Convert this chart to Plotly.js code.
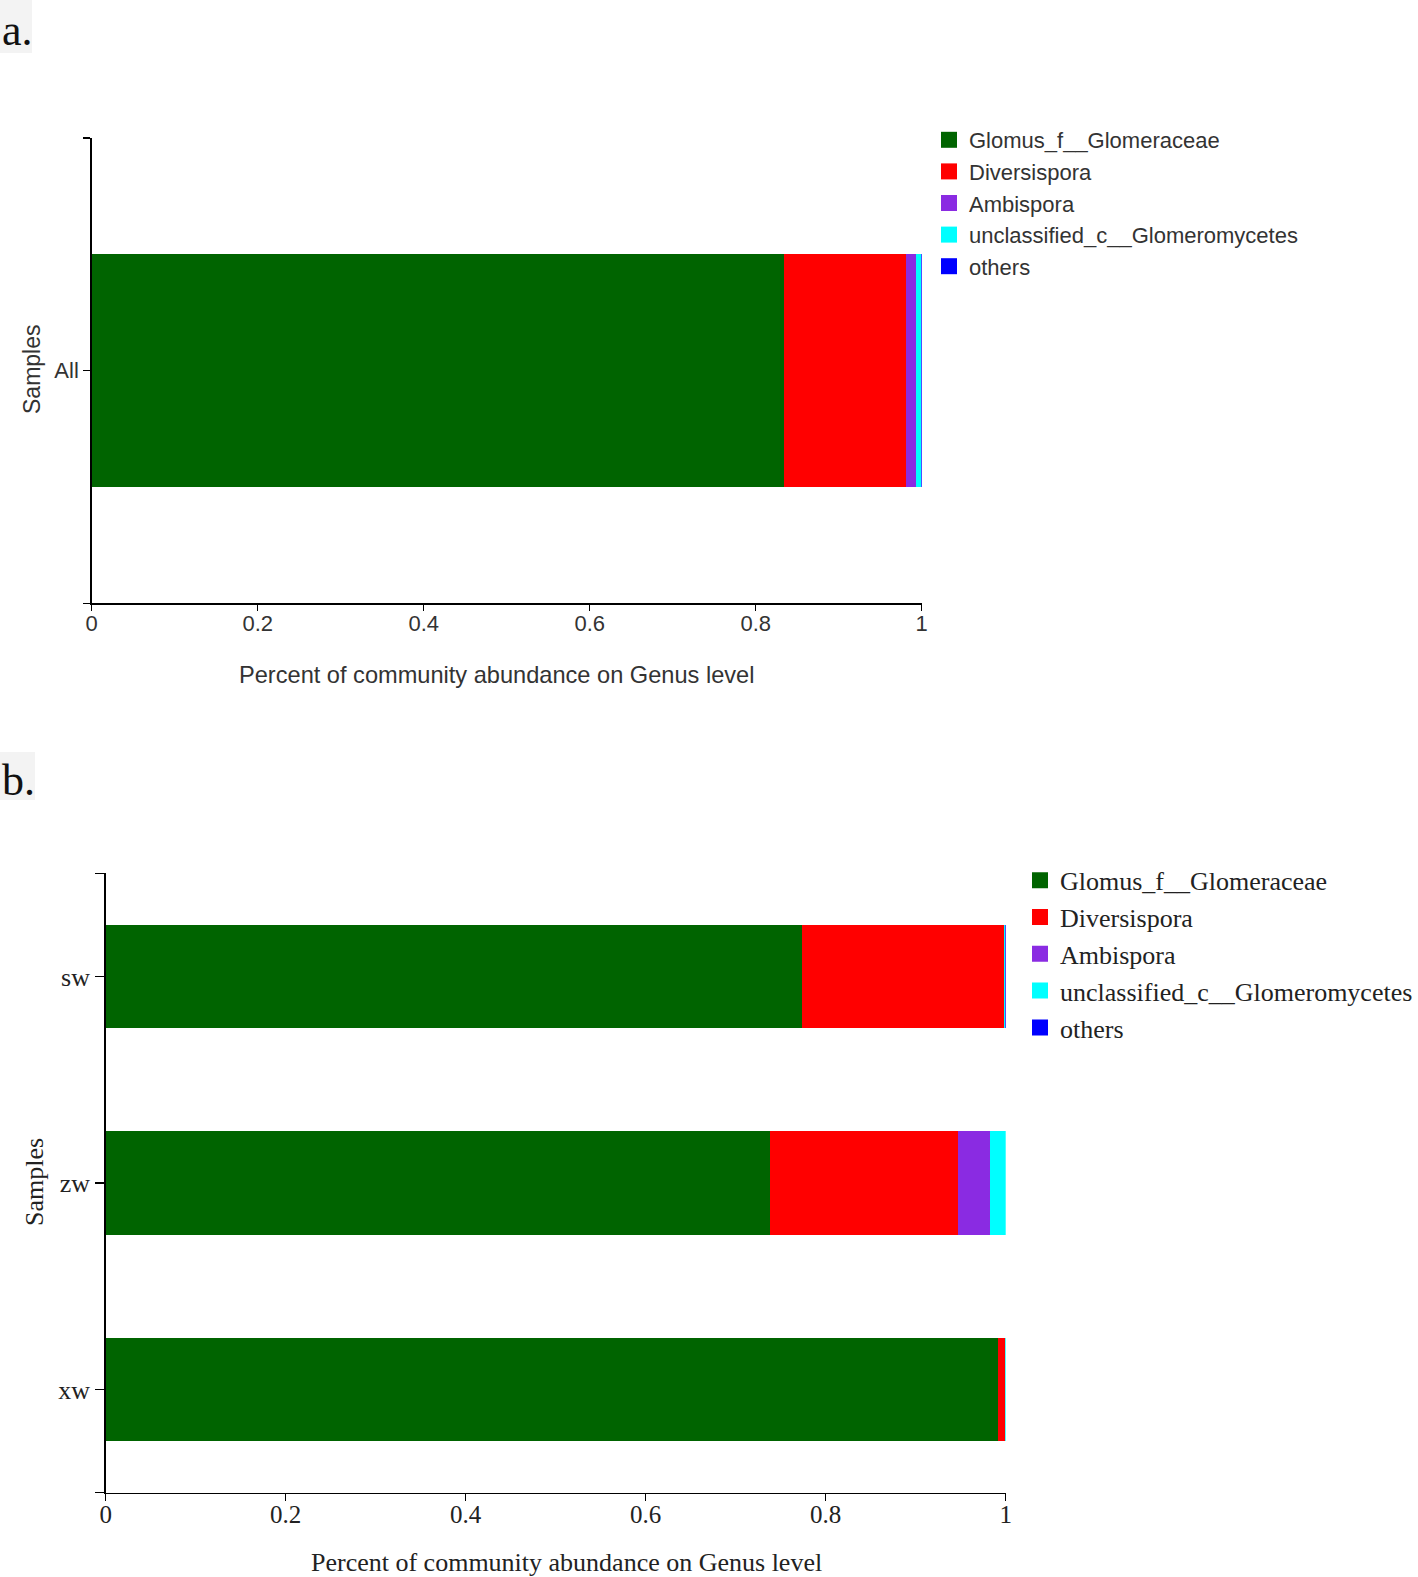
<!DOCTYPE html>
<html>
<head>
<meta charset="utf-8">
<script src="https://cdn.plot.ly/plotly-3.0.1.min.js"></script>
<style>html,body{margin:0;padding:0;background:#fff;}#chart{width:1418px;height:1577px;}</style>
</head>
<body>
<div id="chart"></div>
<script>
// ---------- data ----------
const genera = ['Glomus_f__Glomeraceae', 'Diversispora', 'Ambispora', 'unclassified_c__Glomeromycetes', 'others'];
const genusColors = ['#006400', '#ff0000', '#8a2be2', '#00ffff', '#0000ff'];

// panel a
const samplesA = ['All'];
const glomusA = [0.834];
const diversisporaA = [0.147];
const ambisporaA = [0.012];
const unclassifiedA = [0.0065];
const othersA = [0.0005];

// panel b (top to bottom)
const samplesB = ['sw', 'zw', 'xw'];
const glomusB = [0.774, 0.738, 0.991];
const diversisporaB = [0.224, 0.209, 0.0086];
const ambisporaB = [0.0003, 0.036, 0.0001];
const unclassifiedB = [0.0013, 0.0169, 0.0002];
const othersB = [0.0004, 0.0001, 0.0001];

const xTickVals = [0, 0.2, 0.4, 0.6, 0.8, 1];
const xTickText = ['0', '0.2', '0.4', '0.6', '0.8', '1'];
const xTitle = 'Percent of community abundance on Genus level';
const yTitle = 'Samples';

// ---------- build ----------
const W = 1418, H = 1577;
const px = v => v / W;
const py = v => 1 - v / H;

const SANS = 'Liberation Sans, Arial, sans-serif';
const SERIF = 'Liberation Serif, Times New Roman, serif';

const seriesA = [glomusA, diversisporaA, ambisporaA, unclassifiedA, othersA];
const seriesB = [glomusB, diversisporaB, ambisporaB, unclassifiedB, othersB];

// numeric positions for categories (top first)
const posA = samplesA.map((s, i) => samplesA.length - 1 - i);
const posB = samplesB.map((s, i) => samplesB.length - 1 - i);

const traces = [];
function addPanel(series, pos, xa, ya, legendId, grp) {
  genera.forEach((g, k) => {
    traces.push({
      type: 'bar', orientation: 'h', name: g,
      x: series[k], y: pos, xaxis: xa, yaxis: ya,
      marker: {color: genusColors[k], line: {width: 0}},
      width: 0.5, showlegend: false, legendgroup: grp + k, hoverinfo: 'skip'
    });
  });
  // legend entries (square swatches)
  genera.forEach((g, k) => {
    traces.push({
      type: 'scatter', mode: 'markers', name: g,
      x: [null], y: [null], xaxis: xa, yaxis: ya,
      marker: {symbol: 'square', size: 18, color: genusColors[k], line: {width: 0}},
      showlegend: true, legend: legendId, legendgroup: grp + k, hoverinfo: 'skip'
    });
  });
}
addPanel(seriesA, posA, 'x', 'y', 'legend', 'a');
addPanel(seriesB, posB, 'x2', 'y2', 'legend2', 'b');

function yTicks(samples, pos) {
  const vals = [-0.5], text = [''];
  pos.slice().reverse().forEach((p, i) => { vals.push(p); text.push(samples[samples.length - 1 - i]); });
  vals.push(samples.length - 0.5); text.push('');
  return {vals, text};
}
const ytA = yTicks(samplesA, posA);
const ytB = yTicks(samplesB, posB);

const axisCommon = {
  showline: true, linecolor: '#000', linewidth: 1.5,
  ticks: 'outside', tickcolor: '#000', tickwidth: 1.5,
  showgrid: false, zeroline: false, automargin: false, fixedrange: true
};

const layout = {
  width: W, height: H,
  margin: {l: 0, r: 0, t: 0, b: 0, pad: 0, autoexpand: false},
  paper_bgcolor: '#fff', plot_bgcolor: '#fff',
  barmode: 'stack', showlegend: true, hovermode: false,
  xaxis: Object.assign({}, axisCommon, {
    domain: [px(91.7), px(921.7)], range: [0, 1], anchor: 'y',
    tickmode: 'array', tickvals: xTickVals, ticktext: xTickText, ticklen: 6,
    ticklabelstandoff: -6,
    tickfont: {family: SANS, size: 22, color: '#333'}
  }),
  yaxis: Object.assign({}, axisCommon, {
    domain: [py(603.3), py(137.8)], range: [-0.5, samplesA.length - 0.5], anchor: 'x',
    tickmode: 'array', tickvals: ytA.vals, ticktext: ytA.text, ticklen: 7,
    tickfont: {family: SANS, size: 22, color: '#333'}
  }),
  xaxis2: Object.assign({}, axisCommon, {
    domain: [px(105.7), px(1005.7)], range: [0, 1], anchor: 'y2',
    tickmode: 'array', tickvals: xTickVals, ticktext: xTickText, ticklen: 7,
    ticklabelstandoff: -8,
    tickfont: {family: SERIF, size: 25, color: '#222'}
  }),
  yaxis2: Object.assign({}, axisCommon, {
    domain: [py(1492.7), py(873.3)], range: [-0.5, samplesB.length - 0.5], anchor: 'x2',
    tickmode: 'array', tickvals: ytB.vals, ticktext: ytB.text, ticklen: 9,
    tickfont: {family: SERIF, size: 26, color: '#222'}
  }),
  legend: {
    x: px(929), xanchor: 'left', y: py(119), yanchor: 'top',
    traceorder: 'normal', itemsizing: 'trace', bgcolor: 'rgba(0,0,0,0)', borderwidth: 0,
    font: {family: SANS, size: 22, color: '#333'}
  },
  legend2: {
    x: px(1020), xanchor: 'left', y: py(856.8), yanchor: 'top',
    traceorder: 'normal', itemsizing: 'trace', bgcolor: 'rgba(0,0,0,0)', borderwidth: 0,
    font: {family: SERIF, size: 26, color: '#222'}
  },
  shapes: [
    {type: 'rect', xref: 'paper', yref: 'paper', x0: px(0), x1: px(32), y0: py(53), y1: py(0),
     fillcolor: '#f3f3f3', line: {width: 0}, layer: 'below'},
    {type: 'rect', xref: 'paper', yref: 'paper', x0: px(0), x1: px(35), y0: py(800), y1: py(752),
     fillcolor: '#f3f3f3', line: {width: 0}, layer: 'below'}
  ],
  annotations: [
    {text: 'a.', xref: 'paper', yref: 'paper', x: px(0), y: py(30), xanchor: 'left', yanchor: 'middle',
     showarrow: false, font: {family: SERIF, size: 44, color: '#111'}},
    {text: 'b.', xref: 'paper', yref: 'paper', x: px(0), y: py(780), xanchor: 'left', yanchor: 'middle',
     showarrow: false, font: {family: SERIF, size: 44, color: '#111'}},
    {text: xTitle, xref: 'paper', yref: 'paper', x: px(496), y: py(675), xanchor: 'center', yanchor: 'middle',
     showarrow: false, font: {family: SANS, size: 23.6, color: '#333'}},
    {text: yTitle, xref: 'paper', yref: 'paper', x: px(32), y: py(370), xanchor: 'center', yanchor: 'middle',
     textangle: -90, showarrow: false, font: {family: SANS, size: 23, color: '#333'}},
    {text: xTitle, xref: 'paper', yref: 'paper', x: px(566), y: py(1562), xanchor: 'center', yanchor: 'middle',
     showarrow: false, font: {family: SERIF, size: 26, color: '#222'}},
    {text: yTitle, xref: 'paper', yref: 'paper', x: px(34), y: py(1182), xanchor: 'center', yanchor: 'middle',
     textangle: -90, showarrow: false, font: {family: SERIF, size: 26, color: '#222'}}
  ]
};

Plotly.newPlot('chart', traces, layout, {displayModeBar: false, staticPlot: true});
</script>
</body>
</html>
